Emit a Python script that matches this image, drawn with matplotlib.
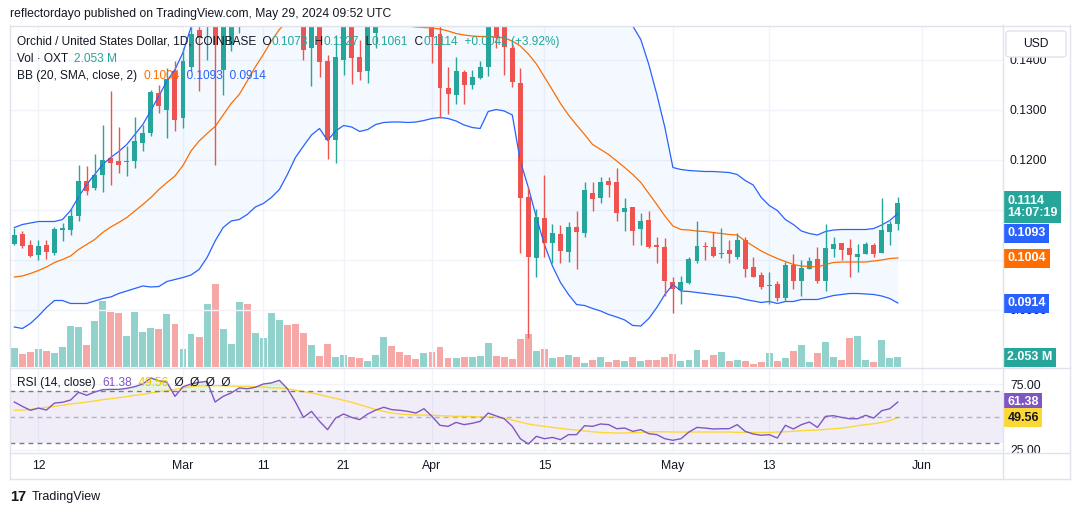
import numpy as np
import pandas as pd
import matplotlib
matplotlib.use('Agg')
import matplotlib.pyplot as plt
from matplotlib.lines import Line2D
from matplotlib.patches import FancyBboxPatch

plt.rcParams['font.family'] = ['Liberation Sans', 'DejaVu Sans']

# ---- data (OXT/USD daily, Feb 9 - May 29 2024) ----
dates = pd.date_range('2024-02-09', '2024-05-29', freq='D')

opens = [0.1033, 0.1053, 0.1030, 0.1011, 0.1030, 0.1015, 0.1061, 0.1061, 0.1088, 0.1158,
         0.1145, 0.1171, 0.1203, 0.1197, 0.1196, 0.1198, 0.1235, 0.1255, 0.1335, 0.1300,
         0.1378, 0.1285, 0.1386, 0.1460, 0.1468, 0.1520, 0.1380, 0.1431, 0.1470, 0.1510,
         0.1495, 0.1530, 0.1565, 0.1590, 0.1635, 0.1580, 0.1500, 0.1424, 0.1480, 0.1399,
         0.1241, 0.1400, 0.1467, 0.1407, 0.1379, 0.1455, 0.1490, 0.1520, 0.1510, 0.1505,
         0.1495, 0.1480, 0.1510, 0.1451, 0.1344, 0.1331, 0.1377, 0.1351, 0.1364, 0.1386,
         0.1490, 0.1480, 0.1424, 0.1354, 0.1126, 0.1004, 0.1084, 0.1034, 0.1052, 0.1016,
         0.1066, 0.1054, 0.1134, 0.1124, 0.1157, 0.1156, 0.1096, 0.1106, 0.1063, 0.1080,
         0.1029, 0.1027, 0.0957, 0.0941, 0.0954, 0.0999, 0.1028, 0.1027, 0.1012, 0.1021,
         0.1007, 0.1041, 0.0986, 0.0971, 0.0949, 0.0952, 0.0925, 0.0991, 0.0959, 0.0983,
         0.1003, 0.0959, 0.1023, 0.1034, 0.1023, 0.1007, 0.1013, 0.1029, 0.1014, 0.1056,
         0.1073]
highs = [0.1065, 0.1058, 0.1041, 0.1041, 0.1041, 0.1066, 0.1075, 0.1105, 0.1190, 0.1189,
         0.1213, 0.1271, 0.1339, 0.1266, 0.1228, 0.1286, 0.1270, 0.1341, 0.1351, 0.1385,
         0.1398, 0.1425, 0.1470, 0.1480, 0.1545, 0.1535, 0.1510, 0.1500, 0.1530, 0.1545,
         0.1550, 0.1590, 0.1620, 0.1660, 0.1650, 0.1590, 0.1510, 0.1500, 0.1500, 0.1411,
         0.1450, 0.1490, 0.1480, 0.1440, 0.1490, 0.1510, 0.1540, 0.1535, 0.1525, 0.1520,
         0.1510, 0.1530, 0.1520, 0.1470, 0.1387, 0.1407, 0.1381, 0.1381, 0.1399, 0.1500,
         0.1510, 0.1500, 0.1437, 0.1385, 0.1147, 0.1102, 0.1171, 0.1072, 0.1071, 0.1077,
         0.1099, 0.1156, 0.1156, 0.1166, 0.1166, 0.1184, 0.1125, 0.1106, 0.1094, 0.1099,
         0.1047, 0.1044, 0.0965, 0.0969, 0.1007, 0.1079, 0.1037, 0.1056, 0.1064, 0.1041,
         0.1054, 0.1047, 0.1005, 0.0977, 0.0977, 0.0959, 0.0997, 0.1012, 0.0999, 0.1007,
         0.1027, 0.1072, 0.1046, 0.1034, 0.1042, 0.1032, 0.1037, 0.1034, 0.1125, 0.1079,
         0.1127]
lows = [0.1031, 0.1023, 0.1005, 0.1001, 0.1003, 0.1009, 0.1038, 0.1051, 0.1078, 0.1131,
        0.1141, 0.1137, 0.1150, 0.1175, 0.1168, 0.1185, 0.1218, 0.1248, 0.1295, 0.1245,
        0.1258, 0.1265, 0.1378, 0.1338, 0.1401, 0.1190, 0.1330, 0.1419, 0.1455, 0.1470,
        0.1480, 0.1515, 0.1550, 0.1575, 0.1560, 0.1475, 0.1401, 0.1349, 0.1367, 0.1203,
        0.1195, 0.1371, 0.1353, 0.1360, 0.1355, 0.1425, 0.1480, 0.1495, 0.1490, 0.1480,
        0.1475, 0.1478, 0.1394, 0.1285, 0.1292, 0.1312, 0.1312, 0.1343, 0.1363, 0.1369,
        0.1424, 0.1371, 0.1347, 0.1014, 0.0844, 0.0967, 0.1007, 0.0994, 0.0994, 0.0996,
        0.0981, 0.1046, 0.1099, 0.1115, 0.1127, 0.1079, 0.1059, 0.1031, 0.1031, 0.1024,
        0.0994, 0.0927, 0.0895, 0.0911, 0.0953, 0.0994, 0.1001, 0.1007, 0.1004, 0.0994,
        0.1003, 0.0965, 0.0965, 0.0941, 0.0911, 0.0919, 0.0917, 0.0943, 0.0929, 0.0981,
        0.0954, 0.0939, 0.1007, 0.0999, 0.0967, 0.0975, 0.1013, 0.1005, 0.1014, 0.1031,
        0.1061]
closes = [0.1050, 0.1028, 0.1009, 0.1028, 0.1017, 0.1063, 0.1063, 0.1088, 0.1158, 0.1138,
          0.1170, 0.1201, 0.1195, 0.1191, 0.1197, 0.1238, 0.1254, 0.1335, 0.1309, 0.1362,
          0.1281, 0.1398, 0.1451, 0.1445, 0.1520, 0.1430, 0.1490, 0.1480, 0.1510, 0.1495,
          0.1530, 0.1565, 0.1590, 0.1635, 0.1580, 0.1500, 0.1421, 0.1480, 0.1397, 0.1241,
          0.1405, 0.1467, 0.1405, 0.1377, 0.1470, 0.1490, 0.1520, 0.1510, 0.1505, 0.1495,
          0.1480, 0.1510, 0.1447, 0.1344, 0.1332, 0.1379, 0.1351, 0.1367, 0.1387, 0.1470,
          0.1444, 0.1427, 0.1357, 0.1124, 0.1006, 0.1086, 0.1034, 0.1054, 0.1019, 0.1066,
          0.1056, 0.1139, 0.1123, 0.1157, 0.1151, 0.1095, 0.1104, 0.1059, 0.1079, 0.1027,
          0.1027, 0.0959, 0.0943, 0.0956, 0.1002, 0.1029, 0.1027, 0.1009, 0.1014, 0.1012,
          0.1040, 0.0983, 0.0967, 0.0947, 0.0951, 0.0925, 0.0990, 0.0959, 0.0984, 0.0999,
          0.0959, 0.1024, 0.1032, 0.1021, 0.1011, 0.1012, 0.1032, 0.1012, 0.1060, 0.1072,
          0.1114]
# volume in millions OXT
volumes = [4.1, 2.7, 3.1, 3.7, 3.4, 2.9, 4.3, 8.6, 8.4, 4.7,
           9.7, 13.9, 11.7, 11.3, 6.6, 11.7, 7.4, 8.2, 8.0, 11.1,
           9.0, 3.9, 7.0, 6.4, 13.2, 17.5, 8.0, 4.9, 13.8, 13.2,
           7.2, 6.2, 11.5, 9.9, 8.8, 9.0, 7.2, 4.7, 2.3, 4.9,
           2.1, 2.5, 2.2, 1.8, 1.3, 2.5, 6.4, 4.4, 3.1, 2.5,
           1.6, 2.9, 3.1, 4.3, 1.8, 1.8, 2.1, 2.1, 2.3, 5.1,
           2.3, 2.1, 1.6, 6.0, 7.0, 3.3, 3.9, 1.8, 2.1, 2.5,
           2.1, 0.8, 1.4, 2.1, 1.0, 1.4, 1.2, 2.1, 1.2, 1.4,
           1.4, 2.1, 2.7, 1.2, 1.4, 3.5, 1.4, 2.5, 3.1, 1.2,
           1.4, 1.2, 0.6, 1.0, 2.9, 1.2, 1.8, 3.3, 4.7, 1.0,
           2.9, 5.3, 2.1, 1.4, 6.2, 6.6, 1.4, 1.0, 5.8, 1.8,
           2.053]
bb_upper = [0.1065, 0.1071, 0.1074, 0.1077, 0.1077, 0.1077, 0.1081, 0.1099, 0.1126, 0.1151,
            0.1171, 0.1191, 0.1205, 0.1217, 0.1231, 0.1251, 0.1271, 0.1299, 0.1328, 0.1358,
            0.1381, 0.1415, 0.1466, 0.1495, 0.1505, 0.1510, 0.1520, 0.1548, 0.1581, 0.1625,
            0.1666, 0.1709, 0.1751, 0.1781, 0.1785, 0.1775, 0.1768, 0.1756, 0.1747, 0.1767,
            0.1742, 0.1725, 0.1720, 0.1719, 0.1705, 0.1689, 0.1679, 0.1672, 0.1666, 0.1661,
            0.1656, 0.1651, 0.1645, 0.1639, 0.1633, 0.1628, 0.1630, 0.1631, 0.1631, 0.1597,
            0.1591, 0.1590, 0.1586, 0.1658, 0.1679, 0.1699, 0.1701, 0.1692, 0.1671, 0.1649,
            0.1629, 0.1593, 0.1559, 0.1544, 0.1531, 0.1510, 0.1490, 0.1468, 0.1441, 0.1391,
            0.1331, 0.1265, 0.1185, 0.1181, 0.1179, 0.1178, 0.1177, 0.1177, 0.1176, 0.1175,
            0.1171, 0.1159, 0.1150, 0.1125, 0.1109, 0.1099, 0.1081, 0.1071, 0.1058, 0.1053,
            0.1050, 0.1057, 0.1060, 0.1061, 0.1061, 0.1061, 0.1061, 0.1063, 0.1070, 0.1079,
            0.1093]
bb_basis = [0.0966, 0.0968, 0.0973, 0.0979, 0.0986, 0.0995, 0.1001, 0.1008, 0.1021, 0.1031,
            0.1041, 0.1055, 0.1066, 0.1075, 0.1085, 0.1098, 0.1111, 0.1125, 0.1141, 0.1155,
            0.1168, 0.1189, 0.1218, 0.1238, 0.1253, 0.1267, 0.1290, 0.1313, 0.1331, 0.1358,
            0.1386, 0.1411, 0.1438, 0.1461, 0.1478, 0.1490, 0.1498, 0.1503, 0.1505, 0.1503,
            0.1500, 0.1497, 0.1493, 0.1488, 0.1483, 0.1480, 0.1477, 0.1474, 0.1471, 0.1468,
            0.1466, 0.1465, 0.1464, 0.1462, 0.1458, 0.1453, 0.1450, 0.1448, 0.1447, 0.1447,
            0.1446, 0.1444, 0.1438, 0.1428, 0.1412, 0.1392, 0.1366, 0.1340, 0.1313, 0.1290,
            0.1270, 0.1251, 0.1231, 0.1221, 0.1211, 0.1198, 0.1185, 0.1171, 0.1155, 0.1133,
            0.1111, 0.1088, 0.1068, 0.1061, 0.1060, 0.1058, 0.1057, 0.1055, 0.1053, 0.1051,
            0.1050, 0.1038, 0.1028, 0.1018, 0.1010, 0.1003, 0.0997, 0.0991, 0.0988, 0.0987,
            0.0986, 0.0991, 0.0995, 0.0996, 0.0996, 0.0996, 0.0996, 0.0998, 0.1000, 0.1003,
            0.1004]
bb_lower = [0.0866, 0.0863, 0.0873, 0.0888, 0.0905, 0.0919, 0.0919, 0.0913, 0.0913, 0.0913,
            0.0918, 0.0923, 0.0926, 0.0933, 0.0938, 0.0943, 0.0948, 0.0946, 0.0947, 0.0957,
            0.0961, 0.0965, 0.0970, 0.0981, 0.1005, 0.1038, 0.1065, 0.1078, 0.1081, 0.1091,
            0.1106, 0.1113, 0.1125, 0.1141, 0.1171, 0.1205, 0.1228, 0.1250, 0.1263, 0.1239,
            0.1258, 0.1269, 0.1266, 0.1257, 0.1261, 0.1271, 0.1275, 0.1276, 0.1276, 0.1275,
            0.1276, 0.1279, 0.1283, 0.1285, 0.1283, 0.1278, 0.1270, 0.1265, 0.1263, 0.1297,
            0.1301, 0.1298, 0.1290, 0.1198, 0.1145, 0.1085, 0.1031, 0.0988, 0.0955, 0.0931,
            0.0911, 0.0909, 0.0903, 0.0898, 0.0891, 0.0886, 0.0880, 0.0869, 0.0868, 0.0883,
            0.0905, 0.0931, 0.0951, 0.0938, 0.0937, 0.0935, 0.0933, 0.0931, 0.0929, 0.0927,
            0.0925, 0.0921, 0.0918, 0.0915, 0.0917, 0.0913, 0.0917, 0.0917, 0.0921, 0.0921,
            0.0921, 0.0925, 0.0929, 0.0931, 0.0933, 0.0933, 0.0932, 0.0931, 0.0928, 0.0923,
            0.0914]
rsi = [61.4, 58.1, 55.1, 56.8, 55.3, 60.6, 61.2, 62.9, 68.8, 66.5,
       69.0, 70.8, 71.0, 71.0, 71.8, 73.1, 75.1, 79.7, 77.6, 76.4,
       65.7, 73.0, 75.1, 76.4, 77.1, 61.4, 65.7, 68.3, 72.1, 71.5,
       72.6, 75.1, 75.9, 77.9, 71.5, 61.4, 49.7, 54.3, 46.7, 40.4,
       49.2, 52.3, 49.7, 48.0, 52.3, 55.3, 57.4, 55.6, 55.1, 54.3,
       53.0, 56.3, 50.5, 43.7, 42.9, 45.9, 44.2, 45.2, 46.7, 53.0,
       50.8, 48.7, 42.9, 33.5, 29.5, 35.3, 33.5, 34.5, 32.8, 36.6,
       36.6, 43.4, 42.9, 44.7, 44.2, 41.1, 41.6, 39.1, 40.4, 37.3,
       36.6, 33.5, 32.3, 33.5, 38.6, 42.1, 41.6, 40.9, 41.1, 41.1,
       44.2, 39.1, 37.1, 36.1, 36.6, 34.0, 43.7, 40.9, 44.2, 46.2,
       42.1, 50.5, 51.0, 49.7, 48.7, 48.7, 51.3, 49.2, 54.8, 56.3,
       61.38]
rsi_ma = [55.1, 55.3, 55.8, 56.6, 57.4, 58.1, 58.9, 59.9, 60.6, 61.4,
          62.2, 63.2, 63.9, 64.7, 65.5, 66.5, 67.2, 68.3, 69.3, 70.0,
          71.0, 72.1, 73.1, 73.6, 73.8, 73.8, 73.8, 73.6, 73.3, 73.3,
          73.1, 72.8, 72.3, 72.1, 71.5, 70.3, 69.3, 68.3, 67.0, 65.5,
          64.2, 62.7, 61.2, 59.4, 57.6, 55.6, 54.3, 53.0, 52.3, 51.8,
          51.5, 51.5, 51.3, 51.0, 50.8, 50.5, 50.5, 50.3, 50.0, 50.0,
          49.7, 49.2, 47.7, 46.2, 44.7, 43.7, 42.9, 42.1, 41.4, 40.6,
          40.1, 39.4, 38.8, 38.3, 38.1, 37.8, 37.8, 38.1, 38.3, 38.6,
          38.8, 38.8, 38.6, 38.6, 38.6, 38.6, 38.6, 38.6, 38.6, 38.6,
          38.3, 38.3, 38.3, 38.3, 38.3, 38.6, 38.8, 39.1, 39.6, 39.9,
          40.1, 40.6, 41.1, 41.6, 42.4, 43.4, 44.2, 44.9, 45.9, 47.2,
          49.56]

tick_dates = ['2024-02-12', '2024-03-01', '2024-03-11', '2024-03-21', '2024-04-01',
              '2024-04-15', '2024-05-01', '2024-05-13', '2024-06-01']
tick_labels = ['12', 'Mar', '11', '21', 'Apr', '15', 'May', '13', 'Jun']
price_grid = [0.09, 0.10, 0.11, 0.12, 0.13, 0.14]
price_labels = [0.09, 0.12, 0.13, 0.14]   # 0.10 and 0.11 sit under the value tags

# ---- styling ----
UP, DOWN = '#26a69a', '#ef5350'
TXT = '#131722'
GRID = '#f0f3fa'
BORDER = '#e0e3eb'
W, H = 1080, 515

x = np.arange(len(dates))
o, h, l, c = map(np.array, (opens, highs, lows, closes))
up = c >= o
cols = np.where(up, UP, DOWN)
tick_x = [(pd.Timestamp(d) - dates[0]).days for d in tick_dates]


def fx(px):
    return px / W


def fy(py):
    return 1 - py / H


fig = plt.figure(figsize=(W / 100, H / 100), dpi=100)
fig.patch.set_facecolor('white')

x_left, x_right = 10, 1003
ax = fig.add_axes([fx(x_left), fy(367), fx(x_right - x_left), (367 - 26) / H])
ax_rsi = fig.add_axes([fx(x_left), fy(452), fx(x_right - x_left), (452 - 369) / H])
ax_vol = ax.twinx()
ax.set_zorder(2)
ax_vol.set_zorder(1)
ax.patch.set_visible(False)

xlim = (-0.54, 123.1)

# volume
ax_vol.bar(x, volumes, width=0.86, color=cols, alpha=0.5, linewidth=0)
ax_vol.set_ylim(0, 72)
ax_vol.set_xlim(*xlim)
ax_vol.axis('off')

# bollinger bands
ax.fill_between(x, bb_lower, bb_upper, color='#2196f3', alpha=0.05, linewidth=0)
ax.plot(x, bb_upper, color='#2962ff', lw=0.9)
ax.plot(x, bb_lower, color='#2962ff', lw=0.9)
ax.plot(x, bb_basis, color='#ff6d00', lw=0.9)

# candles
ax.vlines(x, l, h, colors=cols, lw=1)
body = np.maximum(np.abs(c - o), 0.00018)
ax.bar(x, body, bottom=np.minimum(o, c), width=0.62, color=cols, linewidth=0)

ax.set_xlim(*xlim)
ax.set_ylim(0.0786, 0.1468)
for p in price_grid:
    ax.axhline(p, color=GRID, lw=1, zorder=0)
ax.set_yticks(price_labels)
ax.yaxis.tick_right()
ax.yaxis.set_major_formatter(plt.FuncFormatter(lambda v, pos: f'{v:.4f}'))
ax.set_xticks(tick_x)
ax.tick_params(axis='x', length=0, labelbottom=False)
ax.tick_params(axis='y', length=0, pad=5, labelsize=8.7, labelcolor=TXT)
ax.grid(True, axis='x', color=GRID, lw=1)
ax.set_axisbelow(True)
for s in ax.spines.values():
    s.set_visible(False)

# RSI pane
ax_rsi.axhspan(30, 70, color='#7e57c2', alpha=0.1, lw=0)
ax_rsi.plot(x, rsi_ma, color='#fdd835', lw=1)
ax_rsi.plot(x, rsi, color='#7e57c2', lw=1)
r = np.array(rsi)
ax_rsi.fill_between(x, 70, r, where=r > 70, interpolate=True, color='#4caf50', alpha=0.15, lw=0)
ax_rsi.fill_between(x, 30, r, where=r < 30, interpolate=True, color='#f44336', alpha=0.15, lw=0)
for lvl, a in ((70, 1.0), (50, 0.5), (30, 1.0)):
    ax_rsi.axhline(lvl, color='#787b86', lw=1, alpha=a, dashes=(3.5, 3))
ax_rsi.set_xlim(*xlim)
ax_rsi.set_ylim(23.4, 86.5)
ax_rsi.set_yticks([75, 25])
ax_rsi.set_yticklabels(['75.00', '25.00'])
ax_rsi.yaxis.tick_right()
ax_rsi.set_xticks(tick_x)
ax_rsi.set_xticklabels(tick_labels)
ax_rsi.tick_params(axis='x', length=0, pad=6, labelsize=8.8, labelcolor=TXT)
ax_rsi.tick_params(axis='y', length=0, pad=5, labelsize=8.7, labelcolor=TXT)
ax_rsi.grid(True, color=GRID, lw=1)
ax_rsi.set_axisbelow(True)
for s in ax_rsi.spines.values():
    s.set_visible(False)


def tag(axis, y, text, fc, tc='white', dy=0, va='center'):
    axis.annotate(text, xy=(1, y), xycoords=axis.get_yaxis_transform(),
                  xytext=(3.2, dy), textcoords='offset points', ha='left', va=va,
                  fontsize=9, color=tc, fontweight='bold', linespacing=1.05,
                  bbox=dict(boxstyle='square,pad=0.28', fc=fc, ec='none'),
                  annotation_clip=False, zorder=20)


tag(ax, c[-1], f'{c[-1]:.4f}\n14:07:19', UP, dy=6.0, va='top')
tag(ax, c[-1], f'{bb_upper[-1]:.4f}', '#2962ff', dy=-17.5, va='top')
tag(ax, bb_basis[-1], f'{bb_basis[-1]:.4f}', '#ff6d00')
tag(ax, bb_lower[-1], f'{bb_lower[-1]:.4f}', '#2962ff')
tag(ax_vol, volumes[-1], f'{volumes[-1]:.3f} M', UP)
tag(ax_rsi, rsi[-1], f'{rsi[-1]:.2f}', '#7e57c2')
tag(ax_rsi, rsi_ma[-1], f'{rsi_ma[-1]:.2f}', '#fdd835', tc=TXT)


def legend_line(axis, px, py, parts, size=8.6):
    t = axis.annotate(parts[0][0], xy=(px, H - py), xycoords='figure pixels',
                      color=parts[0][1], fontsize=size, va='center', ha='left',
                      annotation_clip=False, zorder=30)
    for s, col in parts[1:]:
        t = axis.annotate(s, xy=(1, 0), xycoords=t, color=col, fontsize=size,
                          va='bottom', ha='left', annotation_clip=False, zorder=30)


chg = c[-1] - c[-2]
legend_line(ax, 17, 42, [('Orchid / United States Dollar, 1D, COINBASE', TXT),
                         ('  O', TXT), (f'{o[-1]:.4f}', UP),
                         ('  H', TXT), (f'{h[-1]:.4f}', UP),
                         ('  L', TXT), (f'{l[-1]:.4f}', UP),
                         ('  C', TXT), (f'{c[-1]:.4f}', UP),
                         (f'  {chg:+.4f} ({chg / c[-2] * 100:+.2f}%)', UP)])
legend_line(ax, 17, 59, [('Vol · OXT  ', TXT), (f'{volumes[-1]:.3f} M', UP)])
legend_line(ax, 17, 76, [('BB (20, SMA, close, 2)  ', TXT),
                         (f'{bb_basis[-1]:.4f}', '#ff6d00'),
                         (f'  {bb_upper[-1]:.4f}', '#2962ff'),
                         (f'  {bb_lower[-1]:.4f}', '#2962ff')])
legend_line(ax_rsi, 17, 383, [('RSI (14, close)  ', TXT),
                              (f'{rsi[-1]:.2f}', '#7e57c2'),
                              (f'  {rsi_ma[-1]:.2f}', '#e6c300'),
                              ('  Ø  Ø  Ø  Ø', TXT)])

# frame, separators
for (x0, y0, x1, y1) in [(10, 25.5, 1070, 25.5), (10, 479, 1070, 479), (10, 25, 10, 479),
                         (1070, 25, 1070, 479), (1003, 25, 1003, 479),
                         (10, 368, 1070, 368), (10, 452.5, 1070, 452.5)]:
    fig.add_artist(Line2D([fx(x0), fx(x1)], [fy(y0), fy(y1)], color=BORDER, lw=1, zorder=5))

# USD box
fig.add_artist(FancyBboxPatch((fx(1006), fy(57)), fx(60), 26 / H,
                              boxstyle='round,pad=0,rounding_size=0.004',
                              fc='white', ec=BORDER, lw=1, zorder=6,
                              transform=fig.transFigure))
fig.text(fx(1036), fy(44), 'USD', ha='center', va='center', fontsize=8.7, color=TXT, zorder=7)

# header / footer
fig.text(fx(10), fy(14), 'reflectordayo published on TradingView.com, May 29, 2024 09:52 UTC',
         ha='left', va='center', fontsize=8.7, color=TXT)
fig.text(fx(10), fy(497), '17', ha='left', va='center', fontsize=10.5, fontweight='bold', color=TXT)
fig.text(fx(32), fy(497), 'TradingView', ha='left', va='center', fontsize=9, color=TXT)

fig.savefig('out.png', dpi=100)
